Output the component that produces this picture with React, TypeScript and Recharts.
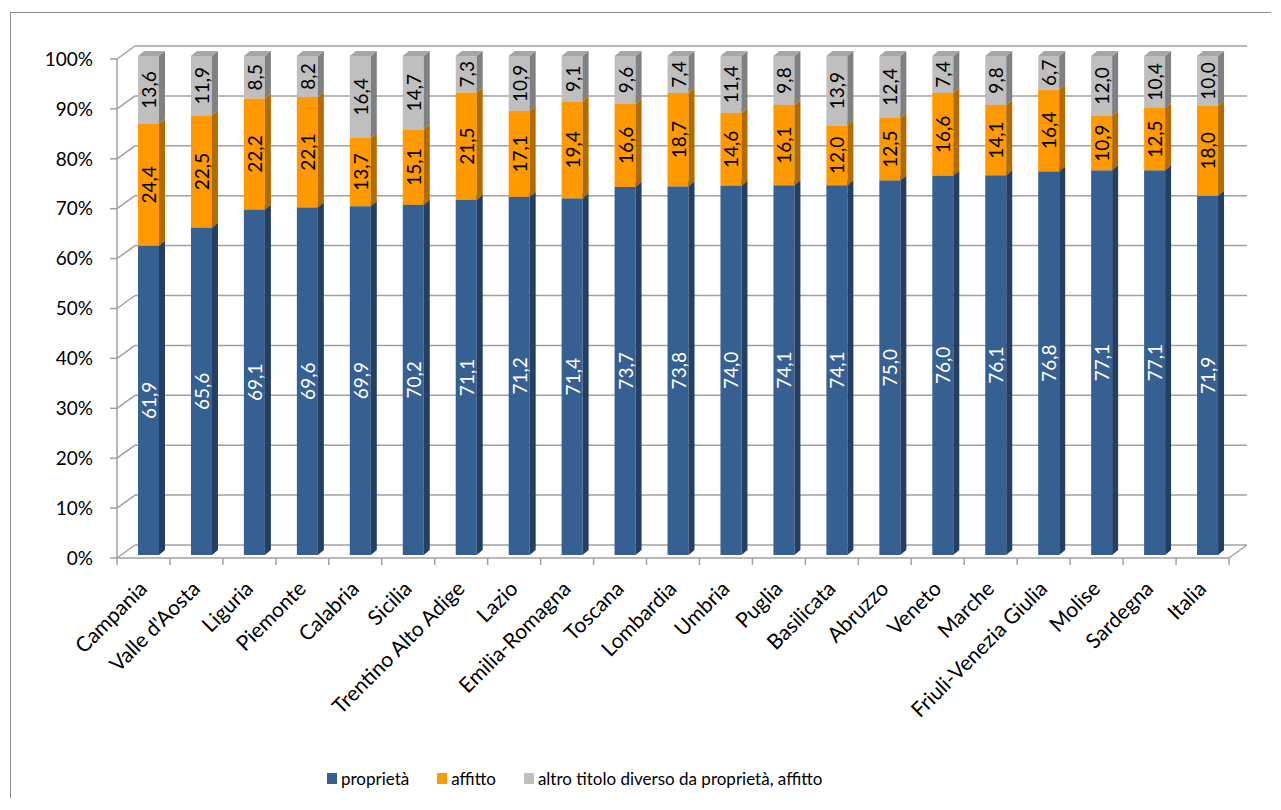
import { BarChart, Bar, XAxis, YAxis, CartesianGrid, Legend } from "recharts"

const regions = [
  "Campania", "Valle d'Aosta", "Liguria", "Piemonte", "Calabria", "Sicilia",
  "Trentino Alto Adige", "Lazio", "Emilia-Romagna", "Toscana", "Lombardia",
  "Umbria", "Puglia", "Basilicata", "Abruzzo", "Veneto", "Marche",
  "Friuli-Venezia Giulia", "Molise", "Sardegna", "Italia",
]
const proprieta = [61.9, 65.6, 69.1, 69.6, 69.9, 70.2, 71.1, 71.2, 71.4, 73.7, 73.8, 74.0, 74.1, 74.1, 75.0, 76.0, 76.1, 76.8, 77.1, 77.1, 71.9]
const affitto = [24.4, 22.5, 22.2, 22.1, 13.7, 15.1, 21.5, 17.1, 19.4, 16.6, 18.7, 14.6, 16.1, 12.0, 12.5, 16.6, 14.1, 16.4, 10.9, 12.5, 18.0]
const altro = [13.6, 11.9, 8.5, 8.2, 16.4, 14.7, 7.3, 10.9, 9.1, 9.6, 7.4, 11.4, 9.8, 13.9, 12.4, 7.4, 9.8, 6.7, 12.0, 10.4, 10.0]
const seriesNames = ["proprietà", "affitto", "altro titolo diverso da proprietà, affitto"]
const yTicks = [0, 0.1, 0.2, 0.3, 0.4, 0.5, 0.6, 0.7, 0.8, 0.9, 1]

const data = regions.map((name, i) => ({
  name,
  proprieta: proprieta[i],
  affitto: affitto[i],
  altro: altro[i],
}))

const FONT = "Lato, 'Noto Sans', sans-serif"
const CHART_W = 1260
const CHART_H = 785
const MARGIN = { top: 46, right: 42, left: 0, bottom: 7 }
const Y_AXIS_W = 106
const PLOT_BOTTOM = 545
const BW = (CHART_W - MARGIN.left - MARGIN.right - Y_AXIS_W) / regions.length
const GRID = "#a0a0a0"

// depth of the "3d" walls and of the bars
const DX = 18
const DY = 13
const SX = 5
const SY = -3
const BDX = 6
const BDY = 5

const fmt = (v: number) => v.toFixed(1).replace(".", ",")

function makeShape(values: number[], side: string, top: string, textColor: string) {
  return (props: any) => {
    const { x, y, width, height, fill, index } = props
    if (height == null || width == null) return null
    const fx = x + SX
    const fy = y + SY
    const cx = fx + width / 2
    const cy = fy + height / 2
    return (
      <g>
        <rect x={fx} y={fy} width={width} height={height} fill={fill} />
        <polygon
          points={`${fx + width},${fy} ${fx + width + BDX},${fy - BDY} ${fx + width + BDX},${fy + height - BDY} ${fx + width},${fy + height}`}
          fill={side}
        />
        <polygon
          points={`${fx},${fy} ${fx + BDX},${fy - BDY} ${fx + width + BDX},${fy - BDY} ${fx + width},${fy}`}
          fill={top}
        />
        <text
          x={cx}
          y={cy}
          transform={`rotate(-90, ${cx}, ${cy})`}
          textAnchor="middle"
          dominantBaseline="central"
          fontSize={19}
          fontFamily={FONT}
          fill={textColor}
        >
          {fmt(values[index])}
        </text>
      </g>
    )
  }
}

const gridLine = (props: any) => {
  const { x1, y1, x2, y2 } = props
  const floor = Math.abs(y1 - PLOT_BOTTOM) < 1
  return (
    <g key={`g-${y1}`}>
      <line x1={x1} y1={y1} x2={x1 + DX} y2={y1 - DY} stroke={GRID} strokeWidth={1.5} />
      <line x1={x1 + DX} y1={y1 - DY} x2={x2 + DX} y2={y2 - DY} stroke={GRID} strokeWidth={1.5} />
      {floor && <line x1={x2} y1={y2} x2={x2 + DX} y2={y2 - DY} stroke={GRID} strokeWidth={1.5} />}
    </g>
  )
}

const XTick = (props: any) => {
  const { x, y, payload, index } = props
  return (
    <g>
      <line x1={x - BW / 2} y1={y} x2={x - BW / 2} y2={y + 7} stroke={GRID} strokeWidth={1.5} />
      {index === regions.length - 1 && (
        <line x1={x + BW / 2} y1={y} x2={x + BW / 2} y2={y + 7} stroke={GRID} strokeWidth={1.5} />
      )}
      <text
        x={x + 5}
        y={y + 32}
        transform={`rotate(-45, ${x + 5}, ${y + 32})`}
        textAnchor="end"
        fontSize={21}
        fontFamily={FONT}
        fill="#000"
      >
        {payload.value}
      </text>
    </g>
  )
}

const renderLegend = (props: any) => {
  const items = [...(props.payload || [])].sort(
    (a: any, b: any) => seriesNames.indexOf(a.value) - seriesNames.indexOf(b.value)
  )
  return (
    <div style={{ display: "flex", alignItems: "center", height: 26, fontFamily: FONT, fontSize: 17 }}>
      {items.map((p: any) => (
        <div key={p.value} style={{ display: "flex", alignItems: "center", marginRight: 28 }}>
          <span style={{ width: 10, height: 11, background: p.color, marginRight: 4, display: "inline-block" }} />
          <span>{p.value}</span>
        </div>
      ))}
    </div>
  )
}

export default function App() {
  return (
    <div
      style={{
        marginLeft: 2,
        marginTop: 4,
        borderTop: "1px solid #898989",
        borderLeft: "1px solid #898989",
        width: CHART_W,
        height: CHART_H,
        background: "#fff",
      }}
    >
      <BarChart width={CHART_W} height={CHART_H} data={data} margin={MARGIN} stackOffset="expand" barSize={21}>
        <CartesianGrid vertical={false} horizontal={gridLine} />
        <XAxis
          dataKey="name"
          interval={0}
          height={207}
          tickLine={false}
          tickSize={0}
          tickMargin={0}
          axisLine={{ stroke: GRID, strokeWidth: 1.5 }}
          tick={XTick}
        />
        <YAxis
          width={Y_AXIS_W}
          domain={[0, 1]}
          ticks={yTicks}
          tickFormatter={(v) => `${Math.round(v * 100)}%`}
          tickSize={7}
          tickMargin={17}
          tickLine={{ stroke: GRID, strokeWidth: 1.5 }}
          axisLine={{ stroke: GRID, strokeWidth: 1.5 }}
          tick={{ fontSize: 19, fontFamily: FONT, fill: "#000" }}
        />
        <Legend
          verticalAlign="bottom"
          align="left"
          content={renderLegend}
          wrapperStyle={{ left: 316, bottom: 7, height: 26, width: 700 }}
        />
        <Bar
          dataKey="proprieta"
          name={seriesNames[0]}
          stackId="a"
          fill="#376092"
          isAnimationActive={false}
          shape={makeShape(proprieta, "#243f64", "#4a73a6", "#fff")}
        />
        <Bar
          dataKey="affitto"
          name={seriesNames[1]}
          stackId="a"
          fill="#ff9900"
          isAnimationActive={false}
          shape={makeShape(affitto, "#b36b00", "#ffad33", "#000")}
        />
        <Bar
          dataKey="altro"
          name={seriesNames[2]}
          stackId="a"
          fill="#bfbfbf"
          isAnimationActive={false}
          shape={makeShape(altro, "#808080", "#a6a6a6", "#000")}
        />
      </BarChart>
    </div>
  )
}
